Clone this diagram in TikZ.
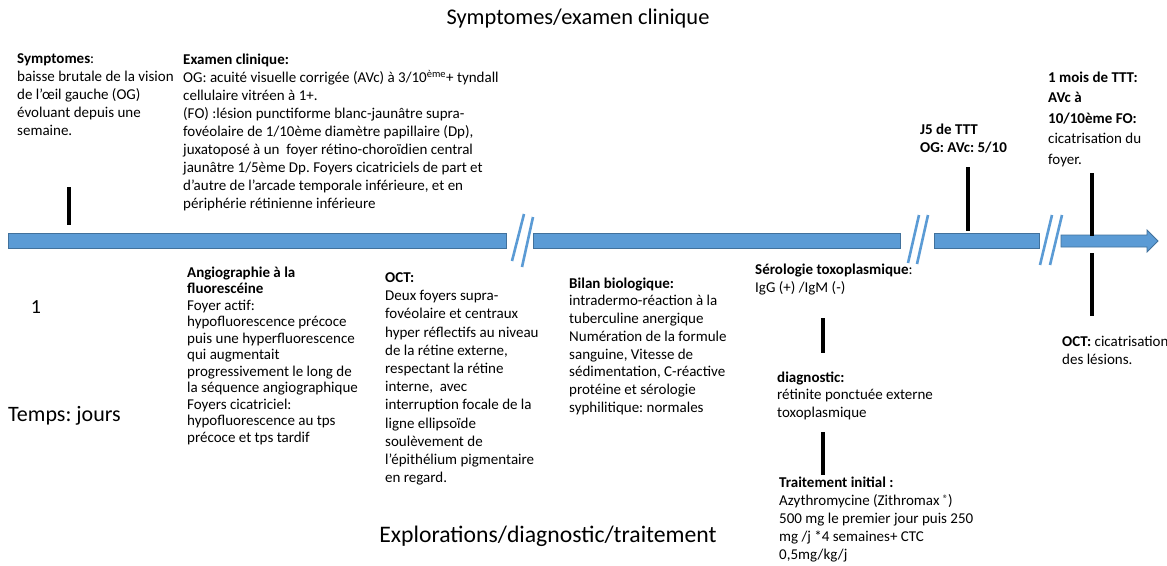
\documentclass[tikz,border=0pt]{standalone}
\usepackage{fontspec}
\setmainfont{Carlito}
\frenchspacing
\definecolor{barblue}{HTML}{5B9BD5}
\definecolor{bardark}{HTML}{41719C}
\tikzset{
  txt/.style={anchor=north west, inner sep=0pt, align=left, font=\fontsize{15}{18}\selectfont},
  big/.style={inner sep=0pt, font=\fontsize{23}{26}\selectfont},
  barshape/.style={fill=barblue, draw=bardark, line width=0.8pt},
  brk/.style={draw=barblue, line width=2.6pt},
  tick/.style={draw=black, line width=4.5pt},
}
\begin{document}
\begin{tikzpicture}[x=1pt,y=-1pt]
\useasboundingbox[fill=white] (0,0) rectangle (1167,565);

% titles
\node[big, font=\fontsize{22.4}{26}\selectfont] (ttop) at (578,19) {Symptomes/examen clinique};
\node[big, font=\fontsize{23.7}{26}\selectfont] (tbot) at (548,536) {Explorations/diagnostic/traitement};
\node[big, anchor=west, font=\fontsize{22}{26}\selectfont] (temps) at (8,416) {Temps: jours};
\node[big, anchor=center, font=\fontsize{20}{24}\selectfont] (one) at (36,307) {1};

% timeline bars
\draw[barshape] (8,233) rectangle (506,248);
\draw[barshape] (533,233) rectangle (900,248);
\draw[barshape] (934,233) rectangle (1039,248);
\draw[barshape] (1061,235) -- (1147,235) -- (1147,230) -- (1158,241) -- (1147,252) -- (1147,247) -- (1061,247) -- cycle;

% breaks
\draw[brk] (512,261) -- (524,214);
\draw[brk] (522,267) -- (533,217);
\draw[brk] (908,263) -- (919,215);
\draw[brk] (917,264) -- (928,215);
\draw[brk] (1040,265) -- (1052,215);
\draw[brk] (1050,265) -- (1062,215);

% ticks
\coordinate (t1a) at (69,187); \coordinate (t1b) at (69,225);
\coordinate (t5a) at (968,167); \coordinate (t5b) at (968,231);
\coordinate (tma) at (1092,173); \coordinate (tmb) at (1092,236);
\coordinate (tmc) at (1092,253); \coordinate (tmd) at (1092,316);
\draw[tick] (t1a) -- (t1b);
\draw[tick] (t5a) -- (t5b);
\draw[tick] (tma) -- (tmb);
\draw[tick] (tmc) -- (tmd);

% upper texts
\node[txt] (sympt) at (17,53.5) {\textbf{Symptomes}:\\baisse brutale de la vision\\de l’œil gauche (OG)\\évoluant depuis une\\semaine.};
\node[txt] (exam) at (183,53.5) {\textbf{Examen clinique:}\\OG: acuité visuelle corrigée (AVc) à 3/10\textsuperscript{ème}+ tyndall\\cellulaire vitréen à 1+.\\(FO) :lésion punctiforme blanc-jaunâtre supra-\\fovéolaire de 1/10ème diamètre papillaire (Dp),\\juxatoposé à un\ \ foyer rétino-choroïdien central\\jaunâtre 1/5ème Dp. Foyers cicatriciels de part et\\d’autre de l’arcade temporale inférieure, et en\\périphérie rétinienne inférieure};
\node[txt] (j5) at (920,123.5) {\textbf{J5 de TTT}\\\textbf{OG: AVc: 5/10}};
\node[txt, font=\fontsize{15}{20.5}\selectfont] (mois) at (1048,71.5) {\textbf{1 mois de TTT:}\\\textbf{AVc à}\\\textbf{10/10ème FO:}\\cicatrisation du\\foyer.};

% lower texts
\node[txt, font=\fontsize{15}{16.5}\selectfont] (angio) at (187,266.5) {\textbf{Angiographie à la}\\\textbf{fluorescéine}\\Foyer actif:\\hypofluorescence précoce\\puis une hyperfluorescence\\qui augmentait\\progressivement le long de\\la séquence angiographique\\Foyers cicatriciel:\\hypofluorescence au tps\\précoce et tps tardif};
\node[txt, font=\fontsize{15}{18.2}\selectfont] (oct) at (385,272.5) {\textbf{OCT:}\\Deux foyers supra-\\fovéolaire et centraux\\hyper réflectifs au niveau\\de la rétine externe,\\respectant la rétine\\interne,\ \ avec\\interruption focale de la\\ligne ellipsoïde\\soulèvement de\\l’épithélium pigmentaire\\en regard.};
\node[txt, font=\fontsize{15}{17.7}\selectfont] (bilan) at (569,277.5) {\textbf{Bilan biologique:}\\intradermo-réaction à la\\tuberculine anergique\\Numération de la formule\\sanguine, Vitesse de\\sédimentation, C-réactive\\protéine et sérologie\\syphilitique: normales};
\node[txt] (sero) at (755,263.5) {\textbf{Sérologie toxoplasmique}:\\IgG (+) /IgM (-)};
\node[txt, font=\fontsize{15}{17.5}\selectfont] (diag) at (777,371.5) {\textbf{diagnostic:}\\rétinite ponctuée externe\\toxoplasmique};
\node[txt] (trait) at (779,476.5) {\textbf{Traitement initial :}\\Azythromycine (Zithromax \raisebox{0.45ex}{\fontsize{10.5}{10.5}\selectfont ®})\\500 mg le premier jour puis 250\\mg /j *4 semaines+ CTC\\0,5mg/kg/j};
\node[txt] (octr) at (1062,335.5) {\textbf{OCT:} cicatrisation\\des lésions.};

% connectors between lower blocks
\coordinate (sa) at (823,318); \coordinate (sb) at (823,353);
\coordinate (da) at (823,432); \coordinate (db) at (823,475);
\draw[tick] (sa) -- (sb);
\draw[tick] (da) -- (db);
\end{tikzpicture}
\end{document}
